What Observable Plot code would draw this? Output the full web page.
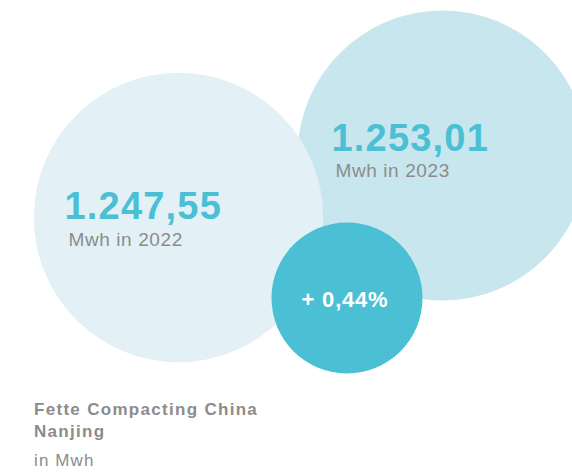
<!DOCTYPE html>
<html>
<head>
<meta charset="utf-8">
<script src="https://cdn.jsdelivr.net/npm/d3@7"></script>
<script src="https://cdn.jsdelivr.net/npm/@observablehq/plot@0.6"></script>
<style>
  html, body { margin: 0; padding: 0; background: #fff; overflow: hidden; }
  #chart svg { display: block; }
  #chart .num, #chart .num text { letter-spacing: 1.2px; }
  #chart .sub, #chart .sub text { letter-spacing: 0.6px; }
  #chart .pct, #chart .pct text { letter-spacing: 0.8px; }
  #footer { font-family: "Liberation Sans", Arial, sans-serif; color: #8c8c8c; padding-left: 34px; margin-top: 9px; }
  #footer .b { font-weight: bold; font-size: 17px; line-height: 22px; letter-spacing: 1.3px; }
  #footer .r { font-size: 17px; line-height: 22px; margin-top: 7px; letter-spacing: 1.1px; }
</style>
</head>
<body>
<div id="chart"></div>
<div id="footer"></div>
<script>
// ---- data ----
const years = ["2022", "2023"];
const values = [1247.55, 1253.01];
const unit = "Mwh";
const plantName = ["Fette Compacting China", "Nanjing"];
const unitNote = "in Mwh";

// ---- formatting (German locale) ----
const de = d3.formatLocale({decimal: ",", thousands: ".", grouping: [3], currency: ["", " €"]});
const fmtValue = de.format(",.2f");
const fmtPct = de.format(".2f");
const change = (values[1] - values[0]) / values[0] * 100;
const changeLabel = (change >= 0 ? "+ " : "− ") + fmtPct(Math.abs(change)) + "%";

// ---- layout (bubble centres, in chart pixel units) ----
const W = 572, H = 390;
const centres = {"2022": [178, 217], "2023": [442, 155], change: [346.5, 297.5]};
const fills = {"2022": "#e3f1f7", "2023": "#c7e6ee"};
const accent = "#4bbfd4";

const bubbles = years.map((y, i) => ({year: y, value: values[i], cx: centres[y][0], cy: centres[y][1]}));
const changeBubble = [{cx: centres.change[0], cy: centres.change[1], label: changeLabel}];

const labelOffsets = {"2022": [-114, 1.5], "2023": [-111, -5]};
const labelRows = bubbles.map(d => ({
  x: d.cx + labelOffsets[d.year][0],
  y: d.cy + labelOffsets[d.year][1],
  num: fmtValue(d.value),
  sub: `${unit} in ${d.year}`
}));

const chart = Plot.plot({
  width: W,
  height: H,
  margin: 0,
  x: {domain: [0, W], range: [0, W], axis: null},
  y: {domain: [0, H], range: [0, H], axis: null},
  r: {type: "sqrt", domain: [0, d3.max(values)], range: [0, 145]},
  style: {fontFamily: "'Liberation Sans', Arial, sans-serif", background: "#fff"},
  marks: [
    Plot.dot(bubbles, {x: "cx", y: "cy", r: "value", fill: d => fills[d.year]}),
    Plot.dot(changeBubble, {x: "cx", y: "cy", r: 75.5, fill: accent}),
    Plot.text(labelRows, {x: "x", y: "y", text: "num", textAnchor: "start", lineAnchor: "bottom",
      fontSize: 38, fontWeight: "bold", fill: accent, className: "num"}),
    Plot.text(labelRows, {x: "x", y: "y", text: "sub", textAnchor: "start", lineAnchor: "bottom",
      fontSize: 19, fill: "#8c8c8c", dx: 4, dy: 26.5, className: "sub"}),
    Plot.text(changeBubble, {x: "cx", y: "cy", text: "label", textAnchor: "middle", lineAnchor: "bottom",
      fontSize: 22, fontWeight: "bold", fill: "#ffffff", dx: -2, dy: 9.2, className: "pct"})
  ]
});
document.getElementById("chart").appendChild(chart);

const footer = document.getElementById("footer");
plantName.forEach(line => {
  const d = document.createElement("div");
  d.className = "b";
  d.textContent = line;
  footer.appendChild(d);
});
const n = document.createElement("div");
n.className = "r";
n.textContent = unitNote;
footer.appendChild(n);
</script>
</body>
</html>
